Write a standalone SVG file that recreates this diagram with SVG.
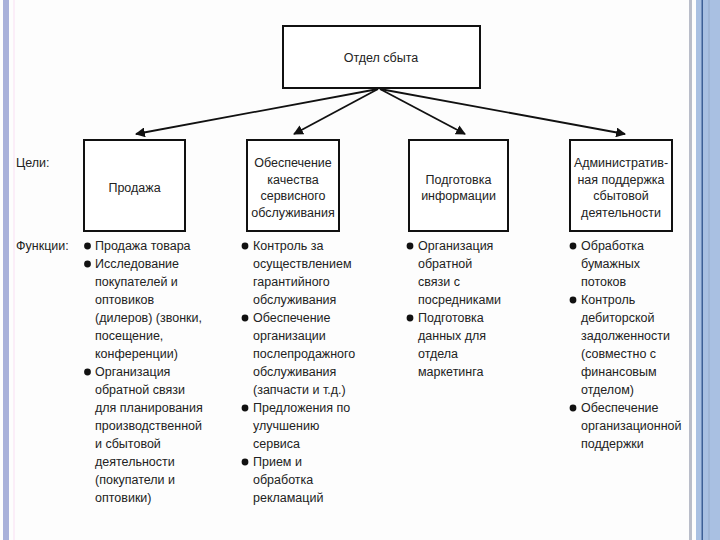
<svg xmlns="http://www.w3.org/2000/svg" width="720" height="540" viewBox="0 0 720 540">
<defs>
<style>
.box{fill:#fff;stroke:#111;stroke-width:2}
.t{font-family:"Liberation Sans",Arial,sans-serif;font-size:12.5px;fill:#222}
.c{text-anchor:middle}
.edge{stroke:#111;stroke-width:1.8;fill:none;marker-end:url(#ah)}
.dot{fill:#111}
</style>
<marker id="ah" viewBox="0 0 10 10" refX="9" refY="5" markerWidth="5.5" markerHeight="5.5" orient="auto" markerUnits="strokeWidth">
<path d="M0,0 L10,5 L0,10 z" fill="#111"/>
</marker>
</defs>
<g id="frame">
<rect x="0" y="0" width="720" height="540" fill="#fdfdfd"/>
<rect x="3" y="0" width="6" height="540" fill="#a9b1da"/>
<rect x="13" y="0" width="2" height="540" fill="#fbeef8"/>
<rect x="689" y="0" width="3" height="540" fill="#b9bdc9"/>
<rect x="696" y="0" width="24" height="540" fill="#a9c0e2"/>
<rect x="701.5" y="0" width="1.5" height="540" fill="#3d5f96"/>
<rect x="708" y="0" width="2" height="540" fill="#9fb5d6"/>
</g>
<g id="connectors">
<line class="edge" x1="378" y1="89" x2="136" y2="134"/>
<line class="edge" x1="378" y1="89" x2="294" y2="134"/>
<line class="edge" x1="380" y1="89" x2="465" y2="134"/>
<line class="edge" x1="380" y1="89" x2="625" y2="134"/>
</g>
<g id="sales-dept">
<rect class="box" x="283" y="26" width="197" height="62"/>
<text class="t c" x="381" y="62">Отдел сбыта</text>
</g>
<text class="t" x="16" y="167">Цели:</text>
<text class="t" x="16" y="250">Функции:</text>
<g id="goal-sales">
<rect class="box" x="84" y="140" width="101" height="91"/>
<text class="t c" x="134.5" y="192">Продажа</text>
</g>
<g id="goal-service">
<rect class="box" x="247" y="140" width="92" height="91"/>
<text class="t c" x="293" y="167">Обеспечение</text>
<text class="t c" x="293" y="184">качества</text>
<text class="t c" x="293" y="200">сервисного</text>
<text class="t c" x="293" y="217">обслуживания</text>
</g>
<g id="goal-info">
<rect class="box" x="409" y="140" width="99" height="91"/>
<text class="t c" x="458.5" y="184">Подготовка</text>
<text class="t c" x="458.5" y="200">информации</text>
</g>
<g id="goal-admin">
<rect class="box" x="570" y="140" width="102" height="91"/>
<text class="t c" x="621" y="167">Административ-</text>
<text class="t c" x="621" y="184">ная поддержка</text>
<text class="t c" x="621" y="200">сбытовой</text>
<text class="t c" x="621" y="217">деятельности</text>
</g>
<g id="functions-sales">
<circle class="dot" cx="87.5" cy="246" r="3.4"/>
<circle class="dot" cx="87.5" cy="264" r="3.4"/>
<circle class="dot" cx="87.5" cy="372" r="3.4"/>
<text class="t" x="95" y="250">Продажа товара</text>
<text class="t" x="95" y="268">Исследование</text>
<text class="t" x="95" y="286">покупателей и</text>
<text class="t" x="95" y="304">оптовиков</text>
<text class="t" x="95" y="322">(дилеров) (звонки,</text>
<text class="t" x="95" y="340">посещение,</text>
<text class="t" x="95" y="358">конференции)</text>
<text class="t" x="95" y="376">Организация</text>
<text class="t" x="95" y="394">обратной связи</text>
<text class="t" x="95" y="412">для планирования</text>
<text class="t" x="95" y="430">производственной</text>
<text class="t" x="95" y="448">и сбытовой</text>
<text class="t" x="95" y="466">деятельности</text>
<text class="t" x="95" y="484">(покупатели и</text>
<text class="t" x="95" y="502">оптовики)</text>
</g>
<g id="functions-service">
<circle class="dot" cx="245" cy="246" r="3.4"/>
<circle class="dot" cx="245" cy="318" r="3.4"/>
<circle class="dot" cx="245" cy="408" r="3.4"/>
<circle class="dot" cx="245" cy="462" r="3.4"/>
<text class="t" x="253" y="250">Контроль за</text>
<text class="t" x="253" y="268">осуществлением</text>
<text class="t" x="253" y="286">гарантийного</text>
<text class="t" x="253" y="304">обслуживания</text>
<text class="t" x="253" y="322">Обеспечение</text>
<text class="t" x="253" y="340">организации</text>
<text class="t" x="253" y="358">послепродажного</text>
<text class="t" x="253" y="376">обслуживания</text>
<text class="t" x="253" y="394">(запчасти и т.д.)</text>
<text class="t" x="253" y="412">Предложения по</text>
<text class="t" x="253" y="430">улучшению</text>
<text class="t" x="253" y="448">сервиса</text>
<text class="t" x="253" y="466">Прием и</text>
<text class="t" x="253" y="484">обработка</text>
<text class="t" x="253" y="502">рекламаций</text>
</g>
<g id="functions-info">
<circle class="dot" cx="410" cy="246" r="3.4"/>
<circle class="dot" cx="410" cy="318" r="3.4"/>
<text class="t" x="418" y="250">Организация</text>
<text class="t" x="418" y="268">обратной</text>
<text class="t" x="418" y="286">связи с</text>
<text class="t" x="418" y="304">посредниками</text>
<text class="t" x="418" y="322">Подготовка</text>
<text class="t" x="418" y="340">данных для</text>
<text class="t" x="418" y="358">отдела</text>
<text class="t" x="418" y="376">маркетинга</text>
</g>
<g id="functions-admin">
<circle class="dot" cx="573" cy="246" r="3.4"/>
<circle class="dot" cx="573" cy="300" r="3.4"/>
<circle class="dot" cx="573" cy="408" r="3.4"/>
<text class="t" x="581" y="250">Обработка</text>
<text class="t" x="581" y="268">бумажных</text>
<text class="t" x="581" y="286">потоков</text>
<text class="t" x="581" y="304">Контроль</text>
<text class="t" x="581" y="322">дебиторской</text>
<text class="t" x="581" y="340">задолженности</text>
<text class="t" x="581" y="358">(совместно с</text>
<text class="t" x="581" y="376">финансовым</text>
<text class="t" x="581" y="394">отделом)</text>
<text class="t" x="581" y="412">Обеспечение</text>
<text class="t" x="581" y="430">организационной</text>
<text class="t" x="581" y="448">поддержки</text>
</g>
</svg>
